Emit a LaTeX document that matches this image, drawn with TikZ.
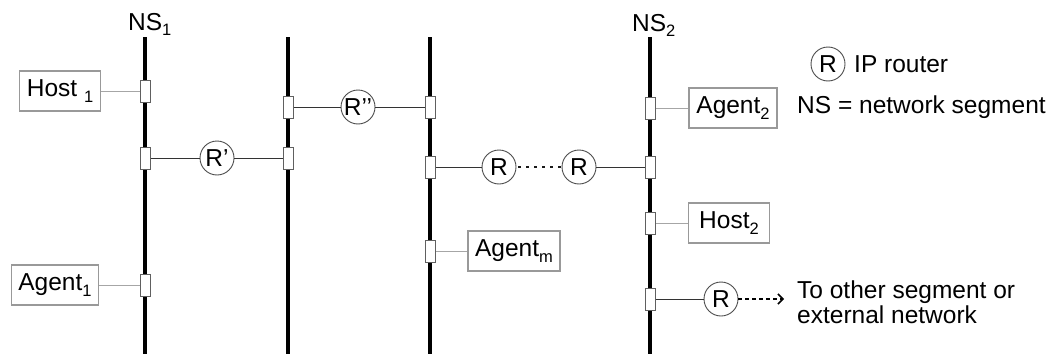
\documentclass[tikz,border=0pt]{standalone}
\usepackage{fontspec}
\setmainfont{Liberation Sans}
\usetikzlibrary{arrows.meta}
\newcommand\lowidx[1]{\raisebox{-0.45ex}{\fontsize{16.5}{16.5}\selectfont #1}}
\tikzset{
  txt/.style={font=\fontsize{24.5}{24.5}\selectfont, inner sep=0pt},
  seg/.style={line width=4pt, black},
  port/.style={draw=gray!75!black, fill=white, line width=0.9pt, minimum width=10pt, minimum height=22pt, inner sep=0pt},
  devbox/.style={txt, draw=gray!80, line width=1.3pt, minimum height=40pt, inner sep=3pt},
  router/.style={txt, circle, draw=gray!60!black, line width=0.9pt, minimum size=34pt, inner sep=0pt},
  rlink/.style={line width=0.9pt, gray!40!black},
  hlink/.style={line width=0.9pt, gray!70},
}
\begin{document}
\begin{tikzpicture}[x=1pt,y=-1pt]
\useasboundingbox (0,0) rectangle (1059,356);
% segments
\coordinate (s1t) at (145,37); \coordinate (s1b) at (145,354);
\coordinate (s2t) at (288,37); \coordinate (s2b) at (288,354);
\coordinate (s3t) at (430,37); \coordinate (s3b) at (430,354);
\coordinate (s4t) at (650,37); \coordinate (s4b) at (650,354);
\draw[seg] (s1t) -- (s1b);
\draw[seg] (s2t) -- (s2b);
\draw[seg] (s3t) -- (s3b);
\draw[seg] (s4t) -- (s4b);
\node[txt, anchor=base west] (ns1) at (128,30) {NS\lowidx{1}};
\node[txt, anchor=base west] (ns2) at (632,31) {NS\lowidx{2}};
% devices
\node[devbox, minimum width=81pt] (host1) at (60,91) {Host \lowidx{1}};
\node[devbox, minimum width=87pt] (agent1) at (55,285) {Agent\lowidx{1}};
\node[devbox, minimum width=92pt] (agentm) at (514,251) {Agent\lowidx{m}};
\node[devbox, minimum width=88pt] (agent2) at (733,108) {Agent\lowidx{2}};
\node[devbox, minimum width=81pt] (host2) at (729,223) {Host\lowidx{2}};
% routers
\node[router] (r1) at (217,158) {R'};
\node[router] (r2) at (358,107) {R'{}'};
\node[router] (r3) at (499,167) {R};
\node[router] (r4) at (579,167) {R};
\node[router] (r5) at (721,299) {R};
% links
\draw[hlink] (host1) -- (145,91) coordinate (p1a);
\draw[hlink] (agent1) -- (145,285) coordinate (p1c);
\draw[hlink] (agentm) -- (430,251) coordinate (p3c);
\draw[hlink] (agent2) -- (650,108) coordinate (p4a);
\draw[hlink] (host2) -- (650,223) coordinate (p4c);
\coordinate (p1b) at (145,158);
\coordinate (p2b) at (288,158);
\coordinate (p2a) at (288,107);
\coordinate (p3a) at (430,107);
\coordinate (p3b) at (430,167);
\coordinate (p4b) at (650,167);
\coordinate (p4d) at (650,299);
\draw[rlink] (p1b) -- (r1) -- (p2b);
\draw[rlink] (p2a) -- (r2) -- (p3a);
\draw[rlink] (p3b) -- (r3);
\draw[line width=2.2pt, gray!20!black, dash pattern=on 2.5pt off 5.5pt, dash phase=-2pt] (r3) -- (r4);
\draw[rlink] (r4) -- (p4b);
\draw[rlink] (p4d) -- (r5);
\coordinate (ext) at (784,299);
\draw[line width=1.3pt, dash pattern=on 3.5pt off 3.5pt, -{Straight Barb[length=5pt,width=10pt,line width=1.5pt]}] (r5) -- (ext);
% ports
\foreach \p in {p1a,p1b,p1c,p2a,p2b,p3a,p3b,p3c,p4a,p4b,p4c,p4d}
  \node[port] at (\p) {};
% external text
\node[txt, anchor=west, align=left] (exttxt) at (797,302) {To other segment or\\external network};
% legend
\node[router] (lr) at (828,64) {R};
\node[txt, anchor=west] (lrt) at (854,64) {IP router};
\node[txt, anchor=west] (lns) at (797,107) {NS = network segment};
\end{tikzpicture}
\end{document}
